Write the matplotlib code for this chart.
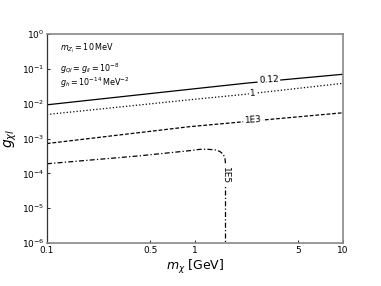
import numpy as np
import matplotlib
matplotlib.use("Agg")
import matplotlib.pyplot as plt

# contour lines: (m_chi [GeV], g_chi_l)
m_012 = [0.1, 0.925, 2.24, 10]
g_012 = [9.3e-3, 2.6e-2, 3.9e-2, 7.0e-2]

m_1 = [0.1, 0.925, 2.17, 10]
g_1 = [4.9e-3, 1.3e-2, 1.86e-2, 3.85e-2]

m_1e3 = [0.1, 0.925, 10]
g_1e3 = [7.2e-4, 2.2e-3, 5.5e-3]

m_1e5 = [0.1, 0.425, 0.925, 1.08, 1.2, 1.365, 1.47, 1.55, 1.595, 1.61, 1.61]
g_1e5 = [1.89e-4, 3.2e-4, 4.5e-4, 4.9e-4, 4.95e-4, 4.75e-4, 4.3e-4, 3.6e-4, 2.8e-4, 1.9e-4, 1e-6]

levels = ["0.12", "1", "1E3", "1E5"]
label_pos = [(3.16, 0.047, 4), (2.47, 0.0205, 4), (2.47, 3.4e-3, 4), (1.61, 8.9e-5, -90)]

x_ticks = [0.1, 0.5, 1, 5, 10]
x_ticklabels = ["0.1", "0.5", "1", "5", "10"]

fig = plt.figure(figsize=(3.81, 2.86), dpi=100)
ax = fig.add_axes([0.123, 0.150, 0.777, 0.731])

ax.plot(m_012, g_012, color="black", ls="-", lw=0.9)
ax.plot(m_1, g_1, color="black", ls=":", lw=0.9)
ax.plot(m_1e3, g_1e3, color="black", ls="--", lw=0.9, dashes=(3, 1.5))
ax.plot(m_1e5, g_1e5, color="black", ls="-.", lw=0.9, dashes=(4, 1.8, 1, 1.8))

for lab, (xm, yg, rot) in zip(levels, label_pos):
    ax.text(xm, yg, lab, fontsize=6.5, rotation=rot, ha="center", va="center",
            bbox=dict(facecolor="white", edgecolor="none", pad=1.0), zorder=5)

ax.set_xscale("log")
ax.set_yscale("log")
ax.set_xlim(0.1, 10)
ax.set_ylim(1e-6, 1)
ax.set_xticks(x_ticks)
ax.set_xticklabels(x_ticklabels)
ax.minorticks_off()
ax.tick_params(direction="in", labelsize=6.5, length=2.5, width=0.6, pad=2)

for s in ax.spines.values():
    s.set_color("#888888")
    s.set_linewidth(1.2)
ax.spines["left"].set_color("#333333")
ax.spines["left"].set_linewidth(0.9)

ax.set_xlabel(r"$m_\chi$ [GeV]", fontsize=9, labelpad=2)
ax.set_ylabel(r"$g_{\chi l}$", fontsize=10, labelpad=2)

ax.text(0.044, 0.933, r"$m_{Z_l} = 10\,\mathrm{MeV}$", transform=ax.transAxes, fontsize=5.8, va="center")
ax.text(0.044, 0.833, r"$g_{Ql} = g_{ll} = 10^{-8}$", transform=ax.transAxes, fontsize=5.8, va="center")
ax.text(0.044, 0.766, r"$g_h = 10^{-14}\,\mathrm{MeV}^{-2}$", transform=ax.transAxes, fontsize=5.8, va="center")

fig.savefig("out.png", dpi=100)
